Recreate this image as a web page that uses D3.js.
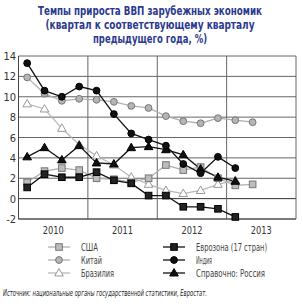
<!DOCTYPE html>
<html>
<head>
<meta charset="utf-8">
<script src="https://cdn.jsdelivr.net/npm/d3@7"></script>
<style>
  body { margin: 0; background: #fff; }
  text { font-family: "Liberation Sans Narrow", "DejaVu Sans", sans-serif; font-stretch: condensed; }
</style>
</head>
<body>
<div id="chart"></div>
<script>
// quarters 2010Q1 .. 2013Q2
var quarters = ["2010Q1","2010Q2","2010Q3","2010Q4","2011Q1","2011Q2","2011Q3","2011Q4",
                "2012Q1","2012Q2","2012Q3","2012Q4","2013Q1","2013Q2"];
var usa    = [1.6, 2.7, 3.0, 2.8, 2.0, 1.9, 1.6, 2.0, 3.3, 2.8, 3.1, 2.0, 1.3, 1.4];
var china  = [11.9, 10.3, 9.6, 9.8, 9.7, 9.5, 9.1, 8.9, 8.1, 7.6, 7.4, 7.9, 7.7, 7.5];
var brazil = [9.3, 8.8, 6.9, 5.3, 4.2, 3.3, 2.1, 1.4, 0.8, 0.5, 0.8, 1.4, 1.8, null];
var euro   = [1.1, 2.4, 2.1, 2.1, 2.6, 1.8, 1.5, 0.3, 0.3, -0.8, -0.8, -1.0, -1.8, null];
var india  = [13.3, 10.6, 10.0, 11.0, 10.6, 8.3, 6.4, 5.8, 5.2, 3.4, 2.5, 4.1, 3.0, null];
var russia = [4.1, 5.0, 3.8, 5.2, 3.5, 3.4, 5.0, 5.1, 4.8, 4.3, 2.9, 2.1, 1.7, null];

var years = [2010, 2011, 2012, 2013];
var yTicks = [-2, 0, 2, 4, 6, 8, 10, 12, 14];

var titleLines = ["Темпы прироста ВВП зарубежных экономик",
                  "(квартал к соответствующему кварталу",
                  "предыдущего года, %)"];
var source = "Источник: национальные органы государственной статистики, Евростат.";

var W = 303, H = 307;
var plotL = 18.5, plotR = 296, plotT = 56, plotB = 219;

var svg = d3.select("#chart").append("svg").attr("width", W).attr("height", H);

var x = d3.scaleLinear().domain([2010, 2014]).range([plotL, plotR]);
var y = d3.scaleLinear().domain([-2, 14]).range([plotB, plotT]);

function qx(i){
  return x(2010 + (i + 0.5) / 4);
}

// title
var titleW = [224, 209, 114];
var titleY = [15, 29, 43];
svg.selectAll(".title").data(titleLines).enter().append("text")
  .attr("class", "title")
  .attr("x", 150).attr("y", function(d, i){ return titleY[i]; })
  .attr("text-anchor", "middle")
  .attr("font-size", 12).attr("font-weight", "bold")
  .attr("fill", "#2b3990")
  .attr("textLength", function(d, i){ return titleW[i]; })
  .attr("lengthAdjust", "spacingAndGlyphs")
  .text(function(d){ return d; });

// grid
var grid = svg.append("g");
grid.selectAll(".hl").data(yTicks).enter().append("line")
  .attr("x1", plotL).attr("x2", plotR)
  .attr("y1", function(d){ return y(d); }).attr("y2", function(d){ return y(d); })
  .attr("stroke", function(d){ return d == 0 ? "#333" : "#666"; })
  .attr("stroke-width", 1);
grid.selectAll(".vl").data(years.concat([2014])).enter().append("line")
  .attr("x1", function(d){ return x(d); }).attr("x2", function(d){ return x(d); })
  .attr("y1", plotT).attr("y2", plotB)
  .attr("stroke", "#666").attr("stroke-width", 1);
grid.append("line").attr("x1", plotL).attr("x2", plotL).attr("y1", plotT).attr("y2", plotB)
  .attr("stroke", "#444");
grid.append("line").attr("x1", plotL).attr("x2", plotR).attr("y1", plotB).attr("y2", plotB)
  .attr("stroke", "#444");

// y axis labels
svg.selectAll(".yl").data(yTicks).enter().append("text")
  .attr("x", 16).attr("y", function(d){ return y(d) + 4; })
  .attr("text-anchor", "end").attr("font-size", 11).attr("fill", "#333")
  .text(function(d){ return d; });

// year labels
svg.selectAll(".xl").data(years).enter().append("text")
  .attr("x", function(d){ return x(d + 0.5); }).attr("y", 234)
  .attr("text-anchor", "middle").attr("font-size", 11).attr("fill", "#333")
  .attr("textLength", 21).attr("lengthAdjust", "spacingAndGlyphs")
  .text(function(d){ return d; });

var series = [
  {name: "США", values: usa, line: "#b0b0b0", shape: "square", fill: "#bdbdbd", stroke: "#777"},
  {name: "Китай", values: china, line: "#b0b0b0", shape: "circle", fill: "#b5b5b5", stroke: "#777"},
  {name: "Бразилия", values: brazil, line: "#b8b8b8", shape: "triangle", fill: "#fff", stroke: "#999"},
  {name: "Еврозона (17 стран)", values: euro, line: "#111", shape: "square", fill: "#222", stroke: "#000"},
  {name: "Индия", values: india, line: "#111", shape: "circle", fill: "#111", stroke: "#000"},
  {name: "Справочно: Россия", values: russia, line: "#111", shape: "triangle", fill: "#111", stroke: "#000"}
];
var legendW = [17, 21, 33, 71, 16, 69];

function drawMarker(g, s, cx, cy){
  if(s.shape == "square"){
    g.append("rect").attr("x", cx - 3.3).attr("y", cy - 3.3).attr("width", 6.6).attr("height", 6.6)
      .attr("fill", s.fill).attr("stroke", s.stroke).attr("stroke-width", 1);
  } else if(s.shape == "circle"){
    g.append("circle").attr("cx", cx).attr("cy", cy).attr("r", 3.4)
      .attr("fill", s.fill).attr("stroke", s.stroke).attr("stroke-width", 1);
  } else {
    g.append("path")
      .attr("d", d3.symbol().type(d3.symbolTriangle).size(32)())
      .attr("transform", "translate(" + cx + "," + (cy + 0.5) + ")")
      .attr("fill", s.fill).attr("stroke", s.stroke).attr("stroke-width", 1);
  }
}

var line = d3.line()
  .defined(function(d){ return d != null; })
  .x(function(d, i){ return qx(i); })
  .y(function(d){ return y(d); });

var plot = svg.append("g");
var order = [2, 1, 0, 5, 4, 3];
order.forEach(function(k){
  var s = series[k];
  plot.append("path").datum(s.values)
    .attr("d", line).attr("fill", "none")
    .attr("stroke", s.line).attr("stroke-width", 1.3);
});
order.forEach(function(k){
  var s = series[k];
  var g = plot.append("g");
  s.values.forEach(function(v, i){
    if(v != null) drawMarker(g, s, qx(i), y(v));
  });
});

// legend
var legX = [48, 163], legY = [247, 260, 273];
series.forEach(function(s, k){
  var col = Math.floor(k / 3), row = k % 3;
  var lx = legX[col], ly = legY[row];
  var g = svg.append("g");
  g.append("line").attr("x1", lx).attr("x2", lx + 22).attr("y1", ly).attr("y2", ly)
    .attr("stroke", s.line).attr("stroke-width", 1.3);
  drawMarker(g, s, lx + 11, ly);
  g.append("text").attr("x", lx + 33).attr("y", ly + 4)
    .attr("font-size", 10.5).attr("fill", "#444")
    .attr("textLength", legendW[k]).attr("lengthAdjust", "spacingAndGlyphs")
    .text(s.name);
});

// source
svg.append("text").attr("x", 3).attr("y", 296)
  .attr("font-size", 8).attr("font-style", "italic").attr("fill", "#222")
  .attr("textLength", 204).attr("lengthAdjust", "spacingAndGlyphs")
  .text(source);
</script>
</body>
</html>
